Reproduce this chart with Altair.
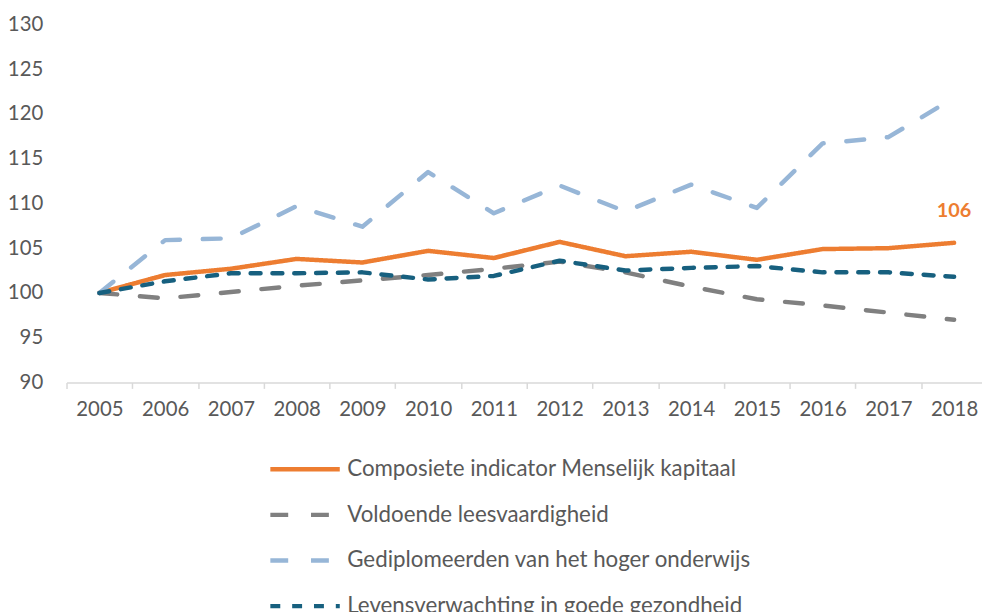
import altair as alt
import pandas as pd

years = [str(y) for y in range(2005, 2019)]
composiet = [100, 102.0, 102.7, 103.8, 103.4, 104.7, 103.9, 105.7, 104.1, 104.6, 103.7, 104.9, 105.0, 105.6]
leesvaardigheid = [100, 99.4, 100.1, 100.8, 101.4, 102.0, 102.7, 103.5, 102.3, 100.7, 99.3, 98.6, 97.8, 97.0]
hoger_onderwijs = [100, 105.9, 106.1, 109.7, 107.4, 113.5, 108.9, 112.0, 109.1, 112.1, 109.5, 116.7, 117.4, 121.8]
levensverwachting = [100, 101.3, 102.2, 102.2, 102.3, 101.5, 101.9, 103.6, 102.5, 102.8, 103.0, 102.3, 102.3, 101.8]

series = [
    "Composiete indicator Menselijk kapitaal",
    "Voldoende leesvaardigheid",
    "Gediplomeerden van het hoger onderwijs",
    "Levensverwachting in goede gezondheid",
]
values = [composiet, leesvaardigheid, hoger_onderwijs, levensverwachting]
colors = ["#ED7D31", "#808080", "#97B6D7", "#17607F"]
dashes = [[1, 0], [18, 23], [18, 23], [10, 12]]
widths = [4.5, 4.5, 4.5, 5]

rows = []
for s, vals in zip(series, values):
    for y, v in zip(years, vals):
        rows.append({"jaar": y, "reeks": s, "waarde": v})
df = pd.DataFrame(rows)

FONT = "Lato"
TXT = "#595959"

legend = alt.Legend(
    title=None,
    orient="none",
    legendX=206.5,
    legendY=414.5,
    direction="vertical",
    padding=0,
    symbolType="M-1.111,0H1.111",
    symbolSize=3969,
    symbolStrokeWidth=4.5,
    labelFont=FONT,
    labelFontSize=22.5,
    labelColor=TXT,
    labelOffset=8.5,
    rowPadding=0,
    labelLimit=700,
)

x = alt.X(
    "jaar:O",
    bandPosition=0.5,
    scale=alt.Scale(type="band", paddingInner=0, paddingOuter=0),
    axis=alt.Axis(
        title=None, labelAngle=0, tickBand="extent", domainColor="#D9D9D9",
        domainWidth=1.5, tickColor="#D9D9D9", tickWidth=1.5, tickSize=6,
        labelPadding=11, labelFont=FONT, labelFontSize=20.5, labelColor=TXT,
    ),
)
y = alt.Y(
    "waarde:Q",
    scale=alt.Scale(domain=[90, 130], nice=False, zero=False),
    axis=alt.Axis(
        title=None, values=list(range(90, 131, 5)), domain=False, ticks=False,
        grid=False, labelPadding=24, labelFont=FONT, labelFontSize=20.5, labelColor=TXT,
    ),
)

lines = alt.Chart(df).mark_line(strokeCap="round", strokeJoin="round").encode(
    x=x,
    y=y,
    color=alt.Color("reeks:N", scale=alt.Scale(domain=series, range=colors), legend=legend),
    strokeDash=alt.StrokeDash("reeks:N", scale=alt.Scale(domain=series, range=dashes), legend=legend),
    strokeWidth=alt.StrokeWidth("reeks:N", scale=alt.Scale(domain=series, range=widths), legend=None),
    order=alt.Order("jaar:O"),
)

label = alt.Chart(df).mark_text(
    font=FONT, fontSize=20, fontWeight="bold", color="#ED7D31", dy=-32, baseline="middle"
).encode(
    x=x,
    y=y,
    text=alt.Text("waarde:Q", format=".0f"),
).transform_filter(
    (alt.datum.reeks == series[0]) & (alt.datum.jaar == years[-1])
)

chart = alt.layer(lines, label).properties(
    width=928,
    height=361,
    autosize=alt.AutoSizeParams(type="none"),
    padding={"left": 59, "top": 14, "right": -5, "bottom": 240},
).configure_view(stroke=None)

chart.save("out.html", embed_options={"renderer": "svg", "actions": False})
